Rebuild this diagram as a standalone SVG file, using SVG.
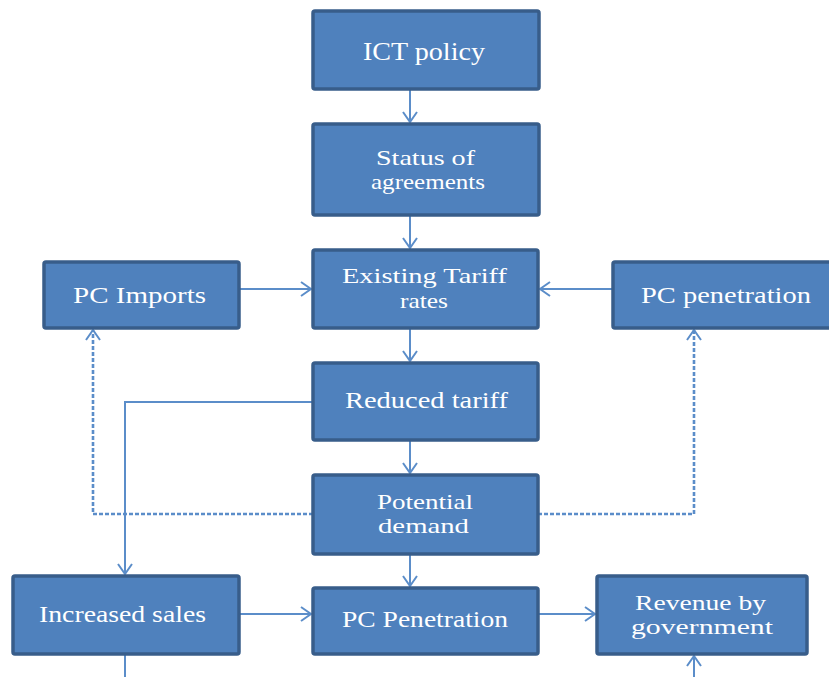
<svg xmlns="http://www.w3.org/2000/svg" width="829" height="677" viewBox="0 0 829 677">
<style>
.box{fill:#4F81BD;stroke:#385D8A;stroke-width:3.5}
.t{font-family:"Liberation Serif","Times New Roman",serif;font-size:23px;fill:#FFFFFF;text-anchor:start}
.t2{font-size:21.5px}
.c{fill:none;stroke:#5B8DC9;stroke-width:2}
.d{fill:none;stroke:#5B8DC9;stroke-width:2.6;stroke-dasharray:4 2}
</style>
<defs>
<marker id="ah" markerUnits="userSpaceOnUse" markerWidth="14" markerHeight="16" refX="11" refY="8" orient="auto">
<path d="M1,1 L11,8 L1,15" fill="none" stroke="#5B8DC9" stroke-width="2"/>
</marker>
</defs>
<rect width="829" height="677" fill="#FFFFFF"/>
<g id="connectors">
<line class="c" x1="410" y1="89" x2="410" y2="122" marker-end="url(#ah)"/>
<line class="c" x1="410" y1="215" x2="410" y2="248" marker-end="url(#ah)"/>
<line class="c" x1="410" y1="328" x2="410" y2="361" marker-end="url(#ah)"/>
<line class="c" x1="410" y1="440" x2="410" y2="473" marker-end="url(#ah)"/>
<line class="c" x1="410" y1="554" x2="410" y2="586" marker-end="url(#ah)"/>
<line class="c" x1="239" y1="289" x2="311" y2="289" marker-end="url(#ah)"/>
<line class="c" x1="613" y1="289" x2="540" y2="289" marker-end="url(#ah)"/>
<polyline class="c" points="313,402 125,402 125,574" marker-end="url(#ah)"/>
<polyline class="d" points="313,514 93,514 93,330" marker-end="url(#ah)"/>
<polyline class="d" points="538,514 694,514 694,330" marker-end="url(#ah)"/>
<line class="c" x1="239" y1="614" x2="311" y2="614" marker-end="url(#ah)"/>
<line class="c" x1="538" y1="614" x2="595" y2="614" marker-end="url(#ah)"/>
<line class="c" x1="125" y1="654" x2="125" y2="677"/>
<line class="c" x1="694" y1="677" x2="694" y2="656" marker-end="url(#ah)"/>
</g>
<g id="ict-policy">
<rect class="box" x="313" y="11" width="226" height="78" rx="2"/>
<text class="t" x="363" y="60" textLength="122" lengthAdjust="spacingAndGlyphs" style="font-size:26px">ICT policy</text>
</g>
<g id="status-of-agreements">
<rect class="box" x="313" y="124" width="226" height="91" rx="2"/>
<text class="t t2" x="376" y="165" textLength="99" lengthAdjust="spacingAndGlyphs">Status of</text>
<text class="t t2" x="371" y="189" textLength="114" lengthAdjust="spacingAndGlyphs">agreements</text>
</g>
<g id="existing-tariff-rates">
<rect class="box" x="313" y="250" width="225" height="78" rx="2"/>
<text class="t t2" x="342" y="283" textLength="165" lengthAdjust="spacingAndGlyphs">Existing Tariff</text>
<text class="t t2" x="400" y="308" textLength="48" lengthAdjust="spacingAndGlyphs">rates</text>
</g>
<g id="pc-imports">
<rect class="box" x="44" y="262" width="195" height="66" rx="2"/>
<text class="t" x="73" y="303" textLength="133" lengthAdjust="spacingAndGlyphs">PC Imports</text>
</g>
<g id="pc-penetration-top">
<rect class="box" x="613" y="262" width="225" height="66" rx="2"/>
<text class="t" x="641" y="303" textLength="170" lengthAdjust="spacingAndGlyphs">PC penetration</text>
</g>
<g id="reduced-tariff">
<rect class="box" x="313" y="363" width="225" height="77" rx="2"/>
<text class="t" x="345" y="408" textLength="163" lengthAdjust="spacingAndGlyphs">Reduced tariff</text>
</g>
<g id="potential-demand">
<rect class="box" x="313" y="475" width="225" height="79" rx="2"/>
<text class="t t2" x="377" y="509" textLength="96" lengthAdjust="spacingAndGlyphs">Potential</text>
<text class="t t2" x="378" y="533" textLength="91" lengthAdjust="spacingAndGlyphs">demand</text>
</g>
<g id="increased-sales">
<rect class="box" x="13" y="576" width="226" height="78" rx="2"/>
<text class="t" x="39" y="622" textLength="167" lengthAdjust="spacingAndGlyphs">Increased sales</text>
</g>
<g id="pc-penetration">
<rect class="box" x="313" y="588" width="225" height="66" rx="2"/>
<text class="t" x="342" y="627" textLength="166" lengthAdjust="spacingAndGlyphs">PC Penetration</text>
</g>
<g id="revenue-by-government">
<rect class="box" x="597" y="576" width="210" height="78" rx="2"/>
<text class="t t2" x="635" y="610" textLength="131" lengthAdjust="spacingAndGlyphs">Revenue by</text>
<text class="t t2" x="631" y="634" textLength="142" lengthAdjust="spacingAndGlyphs">government</text>
</g>
</svg>
